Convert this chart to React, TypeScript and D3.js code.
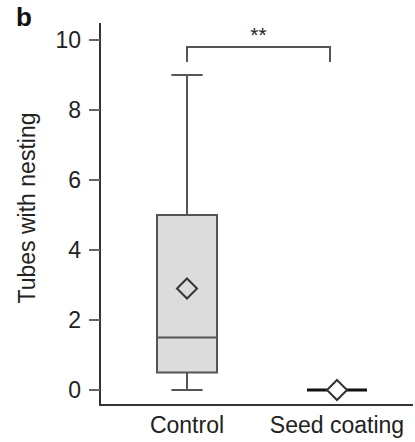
import React from "react";
import * as d3 from "d3";

const categories = ["Control", "Seed coating"];
const whiskerLow = [0, 0];
const q1 = [0.5, 0];
const median = [1.5, 0];
const q3 = [5, 0];
const whiskerHigh = [9, 0];
const means = [2.9, 0];
const yTicks = [0, 2, 4, 6, 8, 10];
const yLabel = "Tubes with nesting";
const panelLabel = "b";
const sigLabel = "**";

const W = 415;
const H = 442;
const FONT = "'Liberation Sans', Arial, Helvetica, sans-serif";

export default function App() {
  const y = d3.scaleLinear().domain([0, 10]).range([390, 40]);
  const x = d3.scaleBand().domain(categories).range([112, 412]).paddingInner(0).paddingOuter(0);
  const boxW = x.bandwidth() * 0.4;
  const capW = boxW * 0.52;
  const axisX = 100;
  const axisBottom = 405;
  const cx = (c: string) => (x(c) as number) + x.bandwidth() / 2;
  const dSize = 10;
  const diamond = (px: number, py: number) =>
    `M${px},${py - dSize} L${px + dSize},${py} L${px},${py + dSize} L${px - dSize},${py} Z`;

  const bx1 = cx(categories[0]);
  const bx2 = cx(categories[1]);
  const bracketTop = 47;
  const bracketLeg = 62;

  return (
    <svg width={W} height={H} style={{ position: "absolute", left: 0, top: 0, background: "#fff" }}>
      <rect x={0} y={0} width={W} height={H} fill="#fff" />
      <text x={16} y={26} fontFamily={FONT} fontWeight="bold" fontSize={26} fill="#111">
        {panelLabel}
      </text>
      {/* axes */}
      <line x1={axisX} x2={axisX} y1={23} y2={axisBottom + 1} stroke="#333" strokeWidth={2} />
      <line x1={axisX - 1} x2={413} y1={axisBottom} y2={axisBottom} stroke="#333" strokeWidth={2} />
      {yTicks.map((t) => (
        <g key={t}>
          <line x1={89} x2={axisX} y1={y(t)} y2={y(t)} stroke="#666" strokeWidth={2} />
          <text
            x={81}
            y={y(t)}
            dy="0.35em"
            textAnchor="end"
            fontFamily={FONT}
            fontSize={23}
            fill="#222"
          >
            {t}
          </text>
        </g>
      ))}
      <text
        transform={`translate(35,208) rotate(-90)`}
        textAnchor="middle"
        fontFamily={FONT}
        fontSize={23}
        fill="#222"
      >
        {yLabel}
      </text>
      {categories.map((c, i) => {
        const px = cx(c);
        const degenerate = q1[i] === q3[i];
        return (
          <g key={c}>
            {!degenerate && (
              <g>
                <line x1={px} x2={px} y1={y(q3[i])} y2={y(whiskerHigh[i])} stroke="#555" strokeWidth={2} />
                <line x1={px} x2={px} y1={y(q1[i])} y2={y(whiskerLow[i])} stroke="#555" strokeWidth={2} />
                <line x1={px - capW / 2} x2={px + capW / 2} y1={y(whiskerHigh[i])} y2={y(whiskerHigh[i])} stroke="#555" strokeWidth={2} />
                <line x1={px - capW / 2} x2={px + capW / 2} y1={y(whiskerLow[i])} y2={y(whiskerLow[i])} stroke="#555" strokeWidth={2} />
                <rect
                  x={px - boxW / 2}
                  y={y(q3[i])}
                  width={boxW}
                  height={y(q1[i]) - y(q3[i])}
                  fill="#dcdcdc"
                  stroke="#555"
                  strokeWidth={2}
                />
                <line x1={px - boxW / 2} x2={px + boxW / 2} y1={y(median[i])} y2={y(median[i])} stroke="#555" strokeWidth={2} />
              </g>
            )}
            {degenerate && (
              <line x1={px - boxW / 2} x2={px + boxW / 2} y1={y(median[i])} y2={y(median[i])} stroke="#111" strokeWidth={3} />
            )}
            <path d={diamond(px, y(means[i]))} fill={degenerate ? "#fff" : "#dcdcdc"} stroke="#333" strokeWidth={2} />
            <text x={px} y={433} textAnchor="middle" fontFamily={FONT} fontSize={23} fill="#222">
              {c}
            </text>
          </g>
        );
      })}
      <path
        d={`M${bx1},${bracketLeg} L${bx1},${bracketTop} L${bx2 - 7},${bracketTop} L${bx2 - 7},${bracketLeg}`}
        fill="none"
        stroke="#555"
        strokeWidth={2}
      />
      <text x={(bx1 + bx2 - 7) / 2} y={42} textAnchor="middle" fontFamily={FONT} fontSize={21} fill="#222">
        {sigLabel}
      </text>
    </svg>
  );
}
